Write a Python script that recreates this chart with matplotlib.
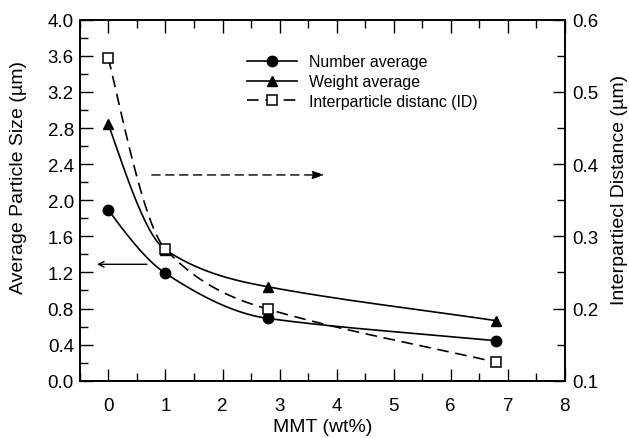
import numpy as np
import matplotlib
matplotlib.use("Agg")
import matplotlib.pyplot as plt
from matplotlib.ticker import MultipleLocator, FormatStrFormatter

plt.rcParams["font.family"] = ["Liberation Sans", "DejaVu Sans"]

# data
mmt = [0, 1, 2.8, 6.8]
number_avg = [1.89, 1.19, 0.69, 0.443]
weight_avg = [2.84, 1.45, 1.04, 0.665]
interparticle = [0.547, 0.282, 0.199, 0.1255]   # right axis


def smooth(x, y, n=200):
    """cubic Hermite curve through the points; the last span stays nearly straight."""
    x = np.asarray(x, float); y = np.asarray(y, float)
    h = np.diff(x); d = np.diff(y) / h
    m = np.zeros_like(y)
    for k in range(1, len(x) - 1):
        if d[k - 1] * d[k] > 0:
            w1 = 2 * h[k] + h[k - 1]; w2 = h[k] + 2 * h[k - 1]
            m[k] = (w1 + w2) / (w1 / d[k - 1] + w2 / d[k])
    m[0] = ((2 * h[0] + h[1]) * d[0] - h[0] * d[1]) / (h[0] + h[1])
    if m[0] * d[0] <= 0:
        m[0] = 0
    m[-2] = 0.5 * (m[-2] + d[-1])
    m[-1] = d[-1]
    xs = np.linspace(x[0], x[-1], n)
    idx = np.clip(np.searchsorted(x, xs) - 1, 0, len(h) - 1)
    t = (xs - x[idx]) / h[idx]
    h00 = 2 * t**3 - 3 * t**2 + 1; h10 = t**3 - 2 * t**2 + t
    h01 = -2 * t**3 + 3 * t**2; h11 = t**3 - t**2
    ys = h00 * y[idx] + h10 * h[idx] * m[idx] + h01 * y[idx + 1] + h11 * h[idx] * m[idx + 1]
    return xs, ys


fig = plt.figure(figsize=(6.29, 4.39), dpi=100)
ax = fig.add_axes([0.127, 0.1305, 0.771, 0.8223])
ax2 = ax.twinx()

lw = 1.2
dash = (0, (7, 4))
ax.plot(*smooth(mmt, number_avg), color="black", lw=lw)
ax.plot(mmt, number_avg, "o", color="black", ms=7.5)
ax.plot(*smooth(mmt, weight_avg), color="black", lw=lw)
ax.plot(mmt, weight_avg, "^", color="black", ms=7.5)
ax2.plot(*smooth(mmt, interparticle), color="black", lw=lw, ls=dash)
ax2.plot(mmt, interparticle, "s", mfc="white", mec="black", mew=1.1, ms=7)

# legend proxies
h1, = ax.plot([], [], "-o", color="black", lw=lw, ms=7.5)
h2, = ax.plot([], [], "-^", color="black", lw=lw, ms=7.5)
h3, = ax.plot([], [], "s", ls=dash, color="black", lw=lw, mfc="white", mew=1.1, ms=7)
ax.legend([h1, h2, h3], ["Number average", "Weight average", "Interparticle distanc (ID)"],
          loc="upper left", bbox_to_anchor=(0.344, 0.904), frameon=False, fontsize=11.4,
          handlelength=3.2, handletextpad=0.75, labelspacing=0.3, borderpad=0, borderaxespad=0)

# direction arrows
ax.annotate("", xy=(-0.2, 1.29), xytext=(0.675, 1.29),
            arrowprops=dict(arrowstyle="->", color="black", lw=1.0,
                            shrinkA=0, shrinkB=0))
ax.annotate("", xy=(3.79, 2.28), xytext=(0.76, 2.28),
            arrowprops=dict(arrowstyle="-|>,head_length=0.6,head_width=0.2", color="black",
                            lw=1.0, ls=(0, (6, 4)), shrinkA=0, shrinkB=0, mutation_scale=12))

ax.set_xlim(-0.5, 8)
ax.set_ylim(0, 4.0)
ax2.set_ylim(0.1, 0.6)
ax.xaxis.set_major_locator(MultipleLocator(1))
ax.xaxis.set_minor_locator(MultipleLocator(0.5))
ax.yaxis.set_major_locator(MultipleLocator(0.4))
ax.yaxis.set_minor_locator(MultipleLocator(0.2))
ax2.yaxis.set_major_locator(MultipleLocator(0.1))
ax2.yaxis.set_minor_locator(MultipleLocator(0.05))
ax.yaxis.set_major_formatter(FormatStrFormatter("%.1f"))
ax2.yaxis.set_major_formatter(FormatStrFormatter("%.1f"))

ax.tick_params(which="both", direction="in", top=True, right=False, labelsize=13.5, width=1.0)
ax.tick_params(which="major", length=9)
ax.tick_params(which="minor", length=5.5)
ax.tick_params(axis="y", pad=4.3)
ax.tick_params(axis="x", pad=11.5)
ax2.tick_params(which="both", direction="in", labelsize=13.5, width=1.0, pad=5)
ax2.tick_params(which="major", length=9)
ax2.tick_params(which="minor", length=5.5)
for a in (ax, ax2):
    for s in a.spines.values():
        s.set_linewidth(1.2)

ax.set_xlabel("MMT (wt%)", fontsize=14, labelpad=3)
ax.set_ylabel("Average Particle Size (\u00b5m)", fontsize=14)
ax2.set_ylabel("Interpartiecl Distance (\u00b5m)", fontsize=14)
ax.yaxis.set_label_coords(-0.11, 0.565)
ax2.yaxis.set_label_coords(1.095, 0.53)

fig.savefig("out.png", dpi=100)
